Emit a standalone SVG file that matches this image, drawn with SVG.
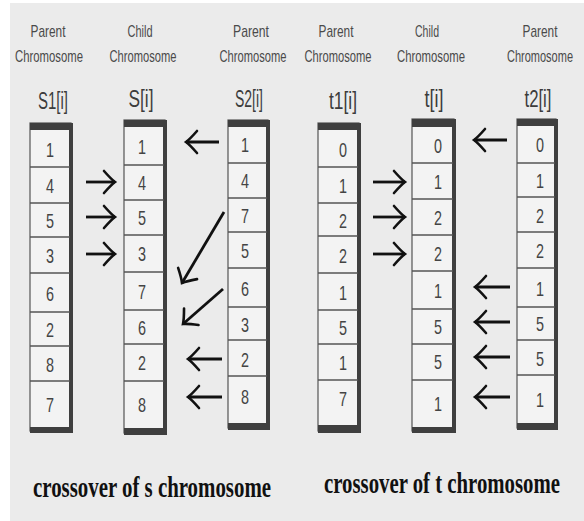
<svg xmlns="http://www.w3.org/2000/svg" width="584" height="521" viewBox="0 0 584 521">
<defs>
<marker id="ah" markerUnits="userSpaceOnUse" viewBox="-14 -13 17 26" refX="0" refY="0" markerWidth="17" markerHeight="26" orient="auto">
<path d="M-11,-11 Q-4,-3 0,0 Q-4,3 -11,11" fill="none" stroke="#111" stroke-width="2.6" stroke-linecap="round"/>
</marker>
<style>
.hd{font-family:"Liberation Sans",Arial,sans-serif;font-size:17px;fill:#4a4a4a;text-anchor:middle}
.lb{font-family:"Liberation Sans",Arial,sans-serif;font-size:23px;fill:#3c3c3c;text-anchor:middle}
.num{font-family:"Liberation Sans",Arial,sans-serif;font-size:21px;fill:#444;text-anchor:middle}
.cell{fill:#f3f3f3;stroke:#555;stroke-width:1.2}
.div{stroke:#555;stroke-width:1.5}
.bar{fill:#3f3f3f}
.arr{fill:none;stroke:#111;stroke-width:2.8;marker-end:url(#ah)}
.cap{font-family:"Liberation Serif","Times New Roman",serif;font-weight:bold;font-size:30px;fill:#111}
</style>
</defs>
<rect x="0" y="0" width="584" height="521" fill="#ffffff"/>
<rect x="10" y="3" width="574" height="518" fill="#ebebeb"/>

<g id="headers">
<text class="hd" x="48" y="37" textLength="35" lengthAdjust="spacingAndGlyphs">Parent</text>
<text class="hd" x="49" y="62" textLength="68" lengthAdjust="spacingAndGlyphs">Chromosome</text>
<text class="hd" x="140" y="37" textLength="25" lengthAdjust="spacingAndGlyphs">Child</text>
<text class="hd" x="143" y="62" textLength="67" lengthAdjust="spacingAndGlyphs">Chromosome</text>
<text class="hd" x="251" y="37" textLength="36" lengthAdjust="spacingAndGlyphs">Parent</text>
<text class="hd" x="253" y="62" textLength="67" lengthAdjust="spacingAndGlyphs">Chromosome</text>
<text class="hd" x="336" y="37" textLength="35" lengthAdjust="spacingAndGlyphs">Parent</text>
<text class="hd" x="338" y="62" textLength="67" lengthAdjust="spacingAndGlyphs">Chromosome</text>
<text class="hd" x="427" y="37" textLength="24" lengthAdjust="spacingAndGlyphs">Child</text>
<text class="hd" x="431" y="62" textLength="68" lengthAdjust="spacingAndGlyphs">Chromosome</text>
<text class="hd" x="540" y="37" textLength="35" lengthAdjust="spacingAndGlyphs">Parent</text>
<text class="hd" x="540" y="62" textLength="66" lengthAdjust="spacingAndGlyphs">Chromosome</text>
</g>

<g id="col-S1">
<text class="lb" x="53" y="109" textLength="30" lengthAdjust="spacingAndGlyphs">S1[i]</text>
<rect class="cell" x="30" y="123" width="41" height="308"/>
<rect class="bar" x="30" y="123" width="43" height="7"/>
<rect class="bar" x="69" y="123" width="4" height="310"/>
<rect class="bar" x="30" y="427" width="43" height="6"/>
<line class="div" x1="30" y1="167" x2="70" y2="167"/>
<line class="div" x1="30" y1="203" x2="70" y2="203"/>
<line class="div" x1="30" y1="237" x2="70" y2="237"/>
<line class="div" x1="30" y1="273" x2="70" y2="273" stroke-width="2.5"/>
<line class="div" x1="30" y1="312" x2="70" y2="312"/>
<line class="div" x1="30" y1="346" x2="70" y2="346"/>
<line class="div" x1="30" y1="381" x2="70" y2="381"/>
<text class="num" x="50" y="157" textLength="8" lengthAdjust="spacingAndGlyphs">1</text>
<text class="num" x="50" y="193" textLength="8" lengthAdjust="spacingAndGlyphs">4</text>
<text class="num" x="50" y="228" textLength="8" lengthAdjust="spacingAndGlyphs">5</text>
<text class="num" x="50" y="263" textLength="8" lengthAdjust="spacingAndGlyphs">3</text>
<text class="num" x="50" y="301" textLength="8" lengthAdjust="spacingAndGlyphs">6</text>
<text class="num" x="50" y="337" textLength="8" lengthAdjust="spacingAndGlyphs">2</text>
<text class="num" x="50" y="372" textLength="8" lengthAdjust="spacingAndGlyphs">8</text>
<text class="num" x="50" y="412" textLength="8" lengthAdjust="spacingAndGlyphs">7</text>
</g>

<g id="col-S">
<text class="lb" x="141" y="107" textLength="25" lengthAdjust="spacingAndGlyphs">S[i]</text>
<rect class="cell" x="124" y="120" width="41" height="313"/>
<rect class="bar" x="124" y="120" width="43" height="7"/>
<rect class="bar" x="163" y="120" width="4" height="315"/>
<rect class="bar" x="124" y="428" width="43" height="7"/>
<line class="div" x1="124" y1="165" x2="164" y2="165"/>
<line class="div" x1="124" y1="200" x2="164" y2="200"/>
<line class="div" x1="124" y1="235" x2="164" y2="235"/>
<line class="div" x1="124" y1="272" x2="164" y2="272"/>
<line class="div" x1="124" y1="310" x2="164" y2="310"/>
<line class="div" x1="124" y1="344" x2="164" y2="344" stroke-width="2.5"/>
<line class="div" x1="124" y1="381" x2="164" y2="381"/>
<text class="num" x="142" y="154" textLength="8" lengthAdjust="spacingAndGlyphs">1</text>
<text class="num" x="142" y="190" textLength="8" lengthAdjust="spacingAndGlyphs">4</text>
<text class="num" x="142" y="225" textLength="8" lengthAdjust="spacingAndGlyphs">5</text>
<text class="num" x="142" y="261" textLength="8" lengthAdjust="spacingAndGlyphs">3</text>
<text class="num" x="142" y="299" textLength="8" lengthAdjust="spacingAndGlyphs">7</text>
<text class="num" x="142" y="335" textLength="8" lengthAdjust="spacingAndGlyphs">6</text>
<text class="num" x="142" y="370" textLength="8" lengthAdjust="spacingAndGlyphs">2</text>
<text class="num" x="142" y="412" textLength="8" lengthAdjust="spacingAndGlyphs">8</text>
</g>

<g id="col-S2">
<text class="lb" x="249" y="107" textLength="28" lengthAdjust="spacingAndGlyphs">S2[i]</text>
<rect class="cell" x="228" y="120" width="40" height="308"/>
<rect class="bar" x="228" y="120" width="42" height="7"/>
<rect class="bar" x="266" y="120" width="4" height="310"/>
<rect class="bar" x="228" y="423" width="42" height="7"/>
<line class="div" x1="228" y1="163" x2="267" y2="163"/>
<line class="div" x1="228" y1="198" x2="267" y2="198"/>
<line class="div" x1="228" y1="232" x2="267" y2="232"/>
<line class="div" x1="228" y1="268" x2="267" y2="268" stroke-width="2.5"/>
<line class="div" x1="228" y1="307" x2="267" y2="307"/>
<line class="div" x1="228" y1="340" x2="267" y2="340"/>
<line class="div" x1="228" y1="376" x2="267" y2="376"/>
<text class="num" x="245" y="152" textLength="8" lengthAdjust="spacingAndGlyphs">1</text>
<text class="num" x="245" y="188" textLength="8" lengthAdjust="spacingAndGlyphs">4</text>
<text class="num" x="245" y="223" textLength="8" lengthAdjust="spacingAndGlyphs">7</text>
<text class="num" x="245" y="258" textLength="8" lengthAdjust="spacingAndGlyphs">5</text>
<text class="num" x="245" y="296" textLength="8" lengthAdjust="spacingAndGlyphs">6</text>
<text class="num" x="245" y="332" textLength="8" lengthAdjust="spacingAndGlyphs">3</text>
<text class="num" x="245" y="367" textLength="8" lengthAdjust="spacingAndGlyphs">2</text>
<text class="num" x="245" y="404" textLength="8" lengthAdjust="spacingAndGlyphs">8</text>
</g>

<g id="col-t1">
<text class="lb" x="343" y="109" textLength="28" lengthAdjust="spacingAndGlyphs">t1[i]</text>
<rect class="cell" x="318" y="123" width="41" height="308"/>
<rect class="bar" x="318" y="123" width="43" height="7"/>
<rect class="bar" x="357" y="123" width="4" height="310"/>
<rect class="bar" x="318" y="425" width="43" height="8"/>
<line class="div" x1="318" y1="167" x2="358" y2="167"/>
<line class="div" x1="318" y1="203" x2="358" y2="203"/>
<line class="div" x1="318" y1="236" x2="358" y2="236"/>
<line class="div" x1="318" y1="273" x2="358" y2="273"/>
<line class="div" x1="318" y1="310" x2="358" y2="310"/>
<line class="div" x1="318" y1="344" x2="358" y2="344"/>
<line class="div" x1="318" y1="380" x2="358" y2="380"/>
<text class="num" x="343" y="157" textLength="8" lengthAdjust="spacingAndGlyphs">0</text>
<text class="num" x="343" y="193" textLength="8" lengthAdjust="spacingAndGlyphs">1</text>
<text class="num" x="343" y="228" textLength="8" lengthAdjust="spacingAndGlyphs">2</text>
<text class="num" x="343" y="263" textLength="8" lengthAdjust="spacingAndGlyphs">2</text>
<text class="num" x="343" y="300" textLength="8" lengthAdjust="spacingAndGlyphs">1</text>
<text class="num" x="343" y="335" textLength="8" lengthAdjust="spacingAndGlyphs">5</text>
<text class="num" x="343" y="370" textLength="8" lengthAdjust="spacingAndGlyphs">1</text>
<text class="num" x="343" y="406" textLength="8" lengthAdjust="spacingAndGlyphs">7</text>
</g>

<g id="col-t">
<text class="lb" x="434" y="107" textLength="19" lengthAdjust="spacingAndGlyphs">t[i]</text>
<rect class="cell" x="412" y="119" width="42" height="312"/>
<rect class="bar" x="412" y="119" width="44" height="8"/>
<rect class="bar" x="452" y="119" width="4" height="314"/>
<rect class="bar" x="412" y="427" width="44" height="6"/>
<line class="div" x1="412" y1="163" x2="453" y2="163"/>
<line class="div" x1="412" y1="199" x2="453" y2="199"/>
<line class="div" x1="412" y1="235" x2="453" y2="235"/>
<line class="div" x1="412" y1="271" x2="453" y2="271"/>
<line class="div" x1="412" y1="309" x2="453" y2="309"/>
<line class="div" x1="412" y1="344" x2="453" y2="344"/>
<line class="div" x1="412" y1="380" x2="453" y2="380"/>
<text class="num" x="438" y="153" textLength="8" lengthAdjust="spacingAndGlyphs">0</text>
<text class="num" x="438" y="189" textLength="8" lengthAdjust="spacingAndGlyphs">1</text>
<text class="num" x="438" y="225" textLength="8" lengthAdjust="spacingAndGlyphs">2</text>
<text class="num" x="438" y="261" textLength="8" lengthAdjust="spacingAndGlyphs">2</text>
<text class="num" x="438" y="298" textLength="8" lengthAdjust="spacingAndGlyphs">1</text>
<text class="num" x="438" y="334" textLength="8" lengthAdjust="spacingAndGlyphs">5</text>
<text class="num" x="438" y="369" textLength="8" lengthAdjust="spacingAndGlyphs">5</text>
<text class="num" x="438" y="411" textLength="8" lengthAdjust="spacingAndGlyphs">1</text>
</g>

<g id="col-t2">
<text class="lb" x="538" y="107" textLength="27" lengthAdjust="spacingAndGlyphs">t2[i]</text>
<rect class="cell" x="517" y="119" width="39" height="309"/>
<rect class="bar" x="517" y="119" width="41" height="7"/>
<rect class="bar" x="554" y="119" width="4" height="311"/>
<rect class="bar" x="517" y="423" width="41" height="7"/>
<line class="div" x1="517" y1="163" x2="555" y2="163"/>
<line class="div" x1="517" y1="197" x2="555" y2="197"/>
<line class="div" x1="517" y1="232" x2="555" y2="232"/>
<line class="div" x1="517" y1="268" x2="555" y2="268" stroke-width="2.5"/>
<line class="div" x1="517" y1="307" x2="555" y2="307"/>
<line class="div" x1="517" y1="340" x2="555" y2="340"/>
<line class="div" x1="517" y1="375" x2="555" y2="375"/>
<text class="num" x="540" y="152" textLength="8" lengthAdjust="spacingAndGlyphs">0</text>
<text class="num" x="540" y="188" textLength="8" lengthAdjust="spacingAndGlyphs">1</text>
<text class="num" x="540" y="223" textLength="8" lengthAdjust="spacingAndGlyphs">2</text>
<text class="num" x="540" y="258" textLength="8" lengthAdjust="spacingAndGlyphs">2</text>
<text class="num" x="540" y="296" textLength="8" lengthAdjust="spacingAndGlyphs">1</text>
<text class="num" x="540" y="331" textLength="8" lengthAdjust="spacingAndGlyphs">5</text>
<text class="num" x="540" y="366" textLength="8" lengthAdjust="spacingAndGlyphs">5</text>
<text class="num" x="540" y="407" textLength="8" lengthAdjust="spacingAndGlyphs">1</text>
</g>

<g id="connectors">
<line class="arr" x1="86" y1="182" x2="115" y2="182"/>
<line class="arr" x1="86" y1="217" x2="115" y2="217" stroke="#7a2232"/>
<line class="arr" x1="86" y1="254" x2="115" y2="254"/>
<line class="arr" x1="219" y1="142" x2="186" y2="142"/>
<line class="arr" x1="224" y1="212" x2="182" y2="283"/>
<line class="arr" x1="223" y1="289" x2="183" y2="324"/>
<line class="arr" x1="222" y1="359" x2="188" y2="359"/>
<line class="arr" x1="222" y1="397" x2="188" y2="397"/>
<line class="arr" x1="373" y1="182" x2="405" y2="182"/>
<line class="arr" x1="373" y1="217" x2="405" y2="217"/>
<line class="arr" x1="373" y1="254" x2="405" y2="254"/>
<line class="arr" x1="507" y1="140" x2="474" y2="140"/>
<line class="arr" x1="510" y1="287" x2="475" y2="287"/>
<line class="arr" x1="510" y1="322" x2="475" y2="322"/>
<line class="arr" x1="510" y1="357" x2="475" y2="357"/>
<line class="arr" x1="510" y1="397" x2="475" y2="397"/>
</g>

<g id="captions">
<text class="cap" x="33" y="497" textLength="238" lengthAdjust="spacingAndGlyphs">crossover of s chromosome</text>
<text class="cap" x="324" y="493" textLength="236" lengthAdjust="spacingAndGlyphs">crossover of t chromosome</text>
</g>
</svg>
